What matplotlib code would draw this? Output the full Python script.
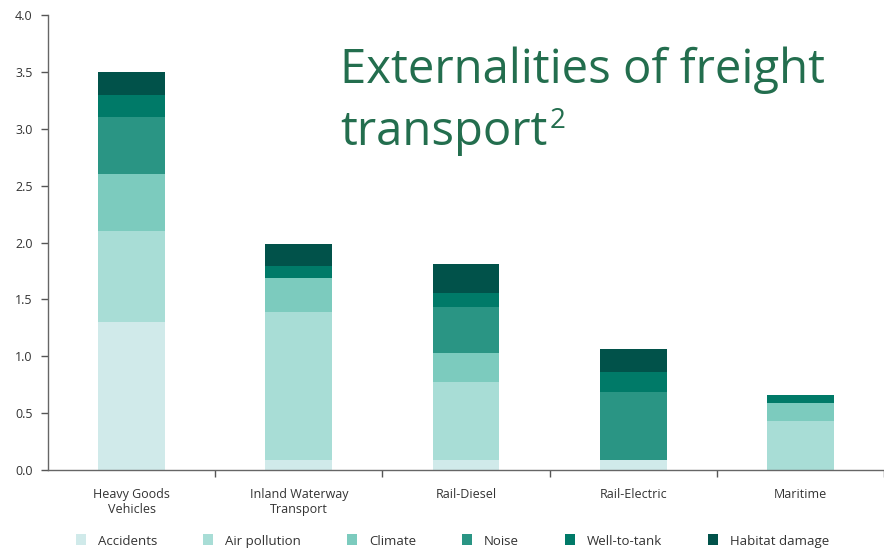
import matplotlib
matplotlib.use("Agg")
import matplotlib.pyplot as plt
import numpy as np

categories = ["Heavy Goods\nVehicles", "Inland Waterway\nTransport", "Rail-Diesel", "Rail-Electric", "Maritime"]
series_names = ["Accidents", "Air pollution", "Climate", "Noise", "Well-to-tank", "Habitat damage"]
accidents = [1.30, 0.09, 0.09, 0.09, 0.00]
air_pollution = [0.80, 1.30, 0.68, 0.00, 0.43]
climate = [0.50, 0.30, 0.26, 0.00, 0.16]
noise = [0.50, 0.00, 0.40, 0.60, 0.00]
well_to_tank = [0.20, 0.10, 0.13, 0.17, 0.07]
habitat_damage = [0.20, 0.20, 0.25, 0.20, 0.00]
yticks = [0.0, 0.5, 1.0, 1.5, 2.0, 2.5, 3.0, 3.5, 4.0]

colors = ["#d0eaea", "#a8ddd6", "#7ccbbe", "#2a9584", "#007a68", "#01524a"]
title_color = "#236e4e"

plt.rcParams["font.family"] = ["Open Sans", "DejaVu Sans"]

W, H = 884, 550
fig = plt.figure(figsize=(W / 100, H / 100), dpi=100)
ax = fig.add_axes([48 / W, 1 - 470 / H, 1 - 48 / W, (470 - 15) / H])

x = np.arange(len(categories))
bottom = np.zeros(len(categories))
handles = []
for name, vals, col in zip(series_names,
                           [accidents, air_pollution, climate, noise, well_to_tank, habitat_damage],
                           colors):
    vals = np.array(vals)
    b = ax.bar(x, vals, width=0.40, bottom=bottom, color=col, label=name, linewidth=0)
    handles.append(b)
    bottom += vals

ax.set_xlim(-0.5, 4.447)
ax.set_ylim(0, 4.0)
ax.set_yticks(yticks)
ax.set_yticklabels([f"{v:.1f}" for v in yticks])

ax.set_xticks(x)
ax.set_xticklabels(categories)
ax.set_xticks(np.arange(len(categories)) + 0.5, minor=True)
ax.tick_params(axis="x", which="major", length=0, pad=13, labelsize=9, labelcolor="#333333")
ax.tick_params(axis="x", which="minor", length=5, width=1, color="#555555", direction="out")
ax.tick_params(axis="y", length=5, width=1, color="#555555", labelsize=9, labelcolor="#333333", pad=6)

for s in ["top", "right"]:
    ax.spines[s].set_visible(False)
for s in ["left", "bottom"]:
    ax.spines[s].set_color("#666666")
    ax.spines[s].set_linewidth(1.0)

fig.legend(handles=handles, labels=series_names, loc="center",
           bbox_to_anchor=(0.512, 1 - 541 / H), ncol=6, frameon=False,
           fontsize=9.5, handlelength=0.75, handleheight=0.9, handletextpad=0.9,
           columnspacing=3.5, labelcolor="#333333")

# Title, two lines, with a superscript footnote marker after the second line
title_kw = dict(fontsize=34, color=title_color, family=["Open Sans", "DejaVu Sans"],
                ha="left", va="baseline")
fig.text(340 / W, 1 - 83 / H, "Externalities of freight", **title_kw)
line2 = fig.text(340 / W, 1 - 145 / H, "transport", **title_kw)
fig.canvas.draw()
bb = line2.get_window_extent()
fig.text((bb.x1 + 2) / W, 1 - 128 / H, "2", fontsize=20, color=title_color,
         family=["Open Sans", "DejaVu Sans"], ha="left", va="baseline")

fig.savefig("out.png", dpi=100)
